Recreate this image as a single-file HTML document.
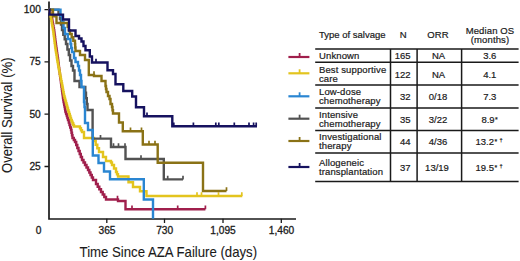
<!DOCTYPE html>
<html><head><meta charset="utf-8"><style>
html,body{margin:0;padding:0;background:#fff;}
body{width:520px;height:261px;overflow:hidden;position:relative;font-family:"Liberation Sans", sans-serif;color:#1a1a1a;}
svg{position:absolute;left:0;top:0;}
.t{position:absolute;white-space:nowrap;line-height:1;}
</style></head><body>
<svg width="520" height="261" viewBox="0 0 520 261">
<path d="M49,1.5V219.8M48.2,219H296" stroke="#1a1a1a" stroke-width="1.7" fill="none"/>
<path d="M44.5,9.6H48.8M44.5,61.9H48.8M44.5,114.2H48.8M44.5,166.5H48.8M106.8,218.8V223M164.5,218.8V223M223,218.8V223M281.3,218.8V223" stroke="#1a1a1a" stroke-width="1.3" fill="none"/>
<path d="M48.8,9.6H49.6V11.4H50.4V13.2H51.2V15.0H51.5V16.9H51.9V18.8H52.2V20.7H52.5V22.6H52.9V24.4H53.2V26.3H53.5V28.2H53.9V30.1H54.2V32.0H54.4V33.8H54.6V35.6H54.9V37.3H55.1V39.1H55.3V40.9H55.5V42.7H55.8V44.4H56.0V46.2H56.2V48.0H56.5V49.7H56.7V51.4H57.0V53.1H57.2V54.9H57.5V56.6H57.7V58.3H58.0V60.0H58.2V61.7H58.4V63.3H58.6V65.0H58.8V66.7H59.0V68.3H59.2V70.0H59.5V71.9H59.7V73.7H60.0V75.6H60.2V77.5H60.5V79.4H60.8V81.2H61.0V83.1H61.3V85.0H61.5V86.9H61.8V88.7H62.0V90.6H62.3V92.5H62.5V94.4H62.8V96.2H63.0V98.1H63.3V100.0H63.6V101.7H63.9V103.4H64.2V105.1H64.6V106.9H64.9V108.6H65.2V110.3H65.5V112.0H66.1V114.0H66.8V116.0H67.4V118.0H68.0V120.0H68.8V122.5H69.5V125.0H70.2V127.5H71.0V130.0H71.5V132.7H72.0V135.3H72.5V138.0H73.8V140.0H75.0V142.0H76.2V145.0H77.3V148.0H78.5V151.0H79.7V154.0H80.8V157.0H82.0V160.0H83.5V162.5H85.0V165.0H86.5V167.5H88.0V170.0H89.3V172.5H90.5V175.0H91.8V177.5H93.0V180.0H96.0V184.0H97.7V186.7H99.3V189.3H101.0V192.0H102.7V194.5H104.3V197.0H106.0V199.5H118.0V201.0H125.5V209.2H205.4" stroke="#a01f4c" stroke-width="2.4" fill="none" stroke-linejoin="miter" stroke-linecap="butt"/><path d="M117.5,199.5V195.8M132.0,209.2V205.5M177.7,209.2V205.5M205.4,209.2V205.5" stroke="#a01f4c" stroke-width="1.7" fill="none"/><path d="M48.8,9.6H49.3V11.4H49.9V13.2H50.4V15.0H50.7V16.9H51.0V18.8H51.4V20.7H51.7V22.6H52.0V24.4H52.3V26.3H52.7V28.2H53.0V30.1H53.3V32.0H53.5V33.8H53.7V35.6H54.0V37.3H54.2V39.1H54.4V40.9H54.6V42.7H54.9V44.4H55.1V46.2H55.3V48.0H55.6V49.7H55.8V51.4H56.1V53.1H56.4V54.9H56.7V56.6H56.9V58.3H57.2V60.0H57.5V61.7H57.8V63.3H58.1V65.0H58.4V66.7H58.7V68.3H59.0V70.0H59.4V71.9H59.7V73.7H60.1V75.6H60.5V77.5H60.9V79.4H61.2V81.2H61.6V83.1H62.0V85.0H62.3V86.8H62.7V88.7H63.0V90.5H63.3V92.3H63.7V94.2H64.0V96.0H64.5V97.8H65.0V99.6H65.5V101.4H66.0V103.2H66.5V105.0H67.0V106.8H67.5V108.5H68.0V110.3H68.5V112.0H69.1V114.0H69.8V116.0H70.4V118.0H71.0V120.0H71.8V121.6H72.5V123.3H73.2V124.9H74.0V126.5H79.0H80.0V128.3H81.0V130.2H82.0V132.0H84.0V138.0H91.0H94.0V141.0H95.7V144.7H97.3V148.3H99.0V152.0H103.0V157.0H106.0V161.0H111.0V162.5H112.0V165.0H114.0V168.5H116.0V172.0H117.0V174.2H118.0V176.5H128.5V182.3H133.0V187.0H140.0V191.3H146.5V196.0H242.3" stroke="#e3c41e" stroke-width="2.4" fill="none" stroke-linejoin="miter" stroke-linecap="butt"/><path d="M197.0,196.0V192.3M201.5,196.0V192.3M218.5,196.0V192.3M241.8,196.0V192.3" stroke="#e3c41e" stroke-width="1.7" fill="none"/><path d="M48.8,9.6H57.0H58.5V14.3H60.0V19.0H61.0V24.5H62.0V30.0H63.3V34.7H64.7V39.3H66.0V44.0H67.4V49.5H68.8V55.0H70.1V60.5H71.5V66.0H73.0V70.5H74.5V75.0V81.0H79.5V87.0H84.5H85.3V92.7H86.0V98.3H86.8V104.0H87.5V110.0H92.6V138.6H111.0V147.0H125.5V159.0H163.8V179.4H183.0" stroke="#525252" stroke-width="2.4" fill="none" stroke-linejoin="miter" stroke-linecap="butt"/><path d="M100.5,138.6V134.9M113.5,147.0V143.3M118.5,147.0V143.3M125.0,147.0V143.3M141.0,159.0V155.3M167.7,179.4V175.7M183.0,179.4V175.7" stroke="#525252" stroke-width="1.7" fill="none"/><path d="M48.8,9.6H59.0H60.5V15.8H62.0V22.0H63.5V28.0H65.0V34.0H67.8V39.0H70.5V44.0H71.2V48.0H72.0V52.0H74.0V58.0H75.5V62.0H78.0V66.0H79.0V70.5H80.0V75.0H81.0V81.0H81.5V87.0H84.0V102.0H84.5V107.0H85.0V112.0V123.0H88.0V130.0H92.8V155.5H98.5V163.0H104.0V171.5H110.0V179.3H143.8V199.5H153.0V218.8" stroke="#2a86d2" stroke-width="2.4" fill="none" stroke-linejoin="miter" stroke-linecap="butt"/><path d="M48.8,9.6H53.0V16.3H56.5V23.0H66.5H67.7V26.7H68.8V30.3H70.0V34.0H71.7V37.3H73.3V40.7H75.0V44.0H75.2V47.5H75.5V51.0H80.0V55.0H85.0V60.0H88.8V64.0V75.0H94.0V76.0H101.5V81.0H103.0H105.5V86.0H106.0V89.0H106.5V92.0H108.0V96.0H109.5V99.0H110.5V104.0H112.0V107.0H112.5V110.2H113.0V113.5H119.0V122.5H122.8V131.2H142.8V144.5H157.7V162.8H203.0V191.0H226.5" stroke="#8a7216" stroke-width="2.4" fill="none" stroke-linejoin="miter" stroke-linecap="butt"/><path d="M94.0,75.0V71.3M130.5,131.2V127.5M141.5,131.2V127.5M149.0,144.5V140.8M155.0,144.5V140.8M226.5,191.0V187.3" stroke="#8a7216" stroke-width="1.7" fill="none"/><path d="M48.8,9.6H49.5V14.6H63.0V19.5H69.0V30.5H75.5V36.0H79.0V38.5H81.5V41.5H83.5V46.0H85.5V50.3H89.8V56.5H92.0V62.5H107.5V70.3H113.0V74.0H115.5V84.3H123.3V91.0H132.2V96.5H136.0V107.2H144.0V116.2H172.3V126.2H257.0" stroke="#16125f" stroke-width="2.4" fill="none" stroke-linejoin="miter" stroke-linecap="butt"/><path d="M96.0,62.5V58.8M147.0,116.2V112.5M193.4,126.2V122.5M215.8,126.2V122.5M218.8,126.2V122.5M234.3,126.2V122.5M249.0,126.2V122.5M253.6,126.2V122.5M256.2,126.2V122.5M173.8,126.2V122.5" stroke="#16125f" stroke-width="1.7" fill="none"/>
<path d="M288.4,57H309.4" stroke="#a01f4c" stroke-width="2.2" fill="none"/><path d="M299.6,57V53" stroke="#a01f4c" stroke-width="1.8" fill="none"/><path d="M288.4,73.3H309.4" stroke="#e3c41e" stroke-width="2.2" fill="none"/><path d="M299.6,73.3V69.3" stroke="#e3c41e" stroke-width="1.8" fill="none"/><path d="M288.4,96.3H309.4" stroke="#2a86d2" stroke-width="2.2" fill="none"/><path d="M299.6,96.3V92.3" stroke="#2a86d2" stroke-width="1.8" fill="none"/><path d="M288.4,118.7H309.4" stroke="#525252" stroke-width="2.2" fill="none"/><path d="M299.6,118.7V114.7" stroke="#525252" stroke-width="1.8" fill="none"/><path d="M288.4,141H309.4" stroke="#8a7216" stroke-width="2.2" fill="none"/><path d="M299.6,141V137" stroke="#8a7216" stroke-width="1.8" fill="none"/><path d="M288.4,167H309.4" stroke="#16125f" stroke-width="2.2" fill="none"/><path d="M299.6,167V163" stroke="#16125f" stroke-width="1.8" fill="none"/>
<path d="M315.2,49.1H518.6M315.2,62.2H518.6M315.2,85.1H518.6M315.2,108.1H518.6M315.2,130.6H518.6M315.2,153.1H518.6M315.2,181.5H518.6M390.5,49.1V181.5M417.1,49.1V181.5M461.6,49.1V181.5" stroke="#1a1a1a" stroke-width="1.5" fill="none"/>
<g font-family='"Liberation Sans", sans-serif' fill="#1a1a1a">
<g font-size="10.2" text-anchor="end" stroke="#1a1a1a" stroke-width="0.3">
<text x="40.8" y="13.2">100</text>
<text x="40.8" y="65.4">75</text>
<text x="40.8" y="117.8">50</text>
<text x="40.8" y="170.1">25</text>
</g>
<g font-size="10.2" text-anchor="middle" stroke="#1a1a1a" stroke-width="0.3">
<text x="38.5" y="234.3">0</text>
<text x="107" y="234.3">365</text>
<text x="164.7" y="234.3">730</text>
<text x="223" y="234.3">1,095</text>
<text x="281.5" y="234.3">1,460</text>
</g>
<text x="79.6" y="256.6" font-size="14.5" textLength="177.5" lengthAdjust="spacingAndGlyphs" stroke="#1a1a1a" stroke-width="0.1">Time Since AZA Failure (days)</text>
<text transform="translate(11.8,173) rotate(-90)" x="0" y="0" font-size="13.8" textLength="115.5" lengthAdjust="spacingAndGlyphs" stroke="#1a1a1a" stroke-width="0.1">Overall Survival (%)</text>
<g font-size="9.5" letter-spacing="0.12" stroke="#1a1a1a" stroke-width="0.2">
<text x="319" y="38" letter-spacing="0">Type of salvage</text>
<text x="403.3" y="38" text-anchor="middle">N</text>
<text x="438" y="38" text-anchor="middle">ORR</text>
<text x="490" y="33.9" text-anchor="middle">Median OS</text>
<text x="490" y="43" text-anchor="middle">(months)</text>

<text x="319" y="58.6">Unknown</text>
<text x="319" y="72.5">Best supportive</text>
<text x="319" y="81.6">care</text>
<text x="319" y="95.2">Low-dose</text>
<text x="319" y="104.2">chemotherapy</text>
<text x="319" y="118">Intensive</text>
<text x="319" y="127">chemotherapy</text>
<text x="319" y="140.2">Investigational</text>
<text x="319" y="149.2">therapy</text>
<text x="319" y="165.6">Allogeneic</text>
<text x="319" y="174.6">transplantation</text>
</g>
<g font-size="9.5" text-anchor="end" stroke="#1a1a1a" stroke-width="0.2">
<text x="410.5" y="59">165</text>
<text x="410.5" y="77.5">122</text>
<text x="410.5" y="99.9">32</text>
<text x="410.5" y="122.8">35</text>
<text x="410.5" y="145.2">44</text>
<text x="410.5" y="171">37</text>
</g>
<g font-size="9.5" text-anchor="middle" stroke="#1a1a1a" stroke-width="0.2">
<text x="438.5" y="59">NA</text>
<text x="438.5" y="77.5">NA</text>
<text x="438" y="99.9">0/18</text>
<text x="438" y="122.8">3/22</text>
<text x="438" y="145.2">4/36</text>
<text x="437" y="171">13/19</text>
<text x="489.8" y="59">3.6</text>
<text x="489.8" y="77.5">4.1</text>
<text x="489.8" y="99.9">7.3</text>
<text x="488" y="123">8.9</text>
<text x="484.8" y="145.4">13.2</text>
<text x="484.8" y="171">19.5</text>
</g>
<g font-size="7" stroke="#1a1a1a" stroke-width="0.2">
<text x="495" y="122">*</text>
<text x="494.6" y="144.4">*</text><text x="499.6" y="142.2" font-size="5.6">†</text>
<text x="494.6" y="169.8">*</text><text x="499.6" y="167.6" font-size="5.6">†</text>
</g>
</g>
</svg>
</body></html>
